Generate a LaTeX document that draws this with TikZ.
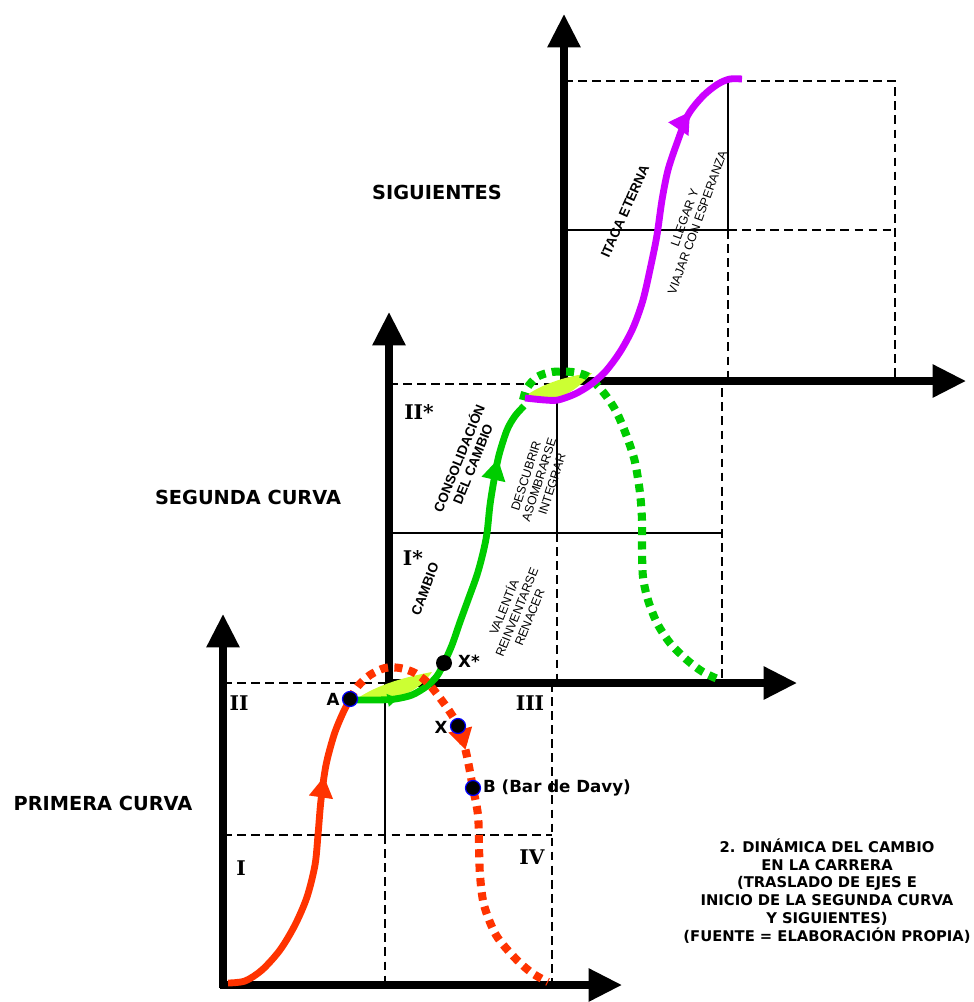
\documentclass[tikz,border=0pt]{standalone}
\usepackage{fontspec}
\usepackage{tikz}
\usetikzlibrary{arrows.meta,decorations.markings}
\newfontfamily\headfont{DejaVu Sans}
\newfontfamily\romfont{DejaVu Serif}
\newfontfamily\labfont{Liberation Sans}
\definecolor{curvered}{RGB}{255,51,0}
\definecolor{curvegreen}{RGB}{0,204,0}
\definecolor{curvemag}{RGB}{204,0,255}
\definecolor{lensfill}{RGB}{204,255,51}

\begin{document}
\begin{tikzpicture}[x=0.02cm,y=-0.02cm,
    axis/.style={line width=4pt,-{Triangle[length=19pt,width=18pt]}},
    gridline/.style={line width=1.3pt},
    griddash/.style={line width=1.3pt,dash pattern=on 5pt off 3pt},
    solidcurve/.style={line width=3.9pt},
    dotcurve/.style={line width=4.6pt,dash pattern=on 4.6pt off 3.6pt},
    tipat/.style={postaction={decorate,decoration={markings,
        mark=at position #1 with {\arrow{Triangle[length=12pt,width=13pt]}}}}},
    smalltipat/.style={postaction={decorate,decoration={markings,
        mark=at position #1 with {\arrow{Triangle[length=6pt,width=7pt]}}}}},
    ptdot/.style={fill=black,draw=blue,line width=0.7pt},
    title/.style={font=\headfont\bfseries\fontsize{11}{13}\selectfont},
    roman/.style={font=\romfont\bfseries\fontsize{11.5}{13}\selectfont},
    ptlabel/.style={font=\headfont\bfseries\fontsize{9.5}{11}\selectfont,inner sep=1pt},
    boldrot/.style={font=\labfont\bfseries\fontsize{7.7}{8.4}\selectfont,align=center,inner sep=0pt},
    thinrot/.style={font=\labfont\fontsize{7}{7.8}\selectfont,align=center,inner sep=0pt}]
  \useasboundingbox (0,0) rectangle (974,1002);
  % grids
  \draw[griddash] (223,683) -- (389,683);
  \draw[griddash] (552,683) -- (552,985);
  \draw[griddash] (223,835) -- (552,835);
  \draw[gridline] (385,683) -- (385,835);
  \draw[griddash] (385,835) -- (385,985);
  \draw[griddash] (389,384) -- (722,384) -- (722,683);
  \draw[gridline] (389,533) -- (722,533);
  \draw[gridline] (557,384) -- (557,533);
  \draw[griddash] (557,533) -- (557,683);
  \draw[griddash] (564,81) -- (895,81) -- (895,381);
  \draw[gridline] (564,230) -- (728,230);
  \draw[griddash] (728,230) -- (895,230);
  \draw[gridline] (728,81) -- (728,230);
  \draw[griddash] (728,230) -- (728,381);
  % axes
  \draw[axis] (223,988) -- (223,614);
  \draw[axis] (220,985) -- (622,985);
  \draw[axis] (389,686) -- (389,312);
  \draw[axis] (386,683) -- (797,683);
  \draw[axis] (564,384) -- (564,14);
  \draw[axis] (561,381) -- (966,381);
  % points
  \coordinate (O1) at (228,983);
  \coordinate (A) at (350,699);
  \coordinate (X) at (458,726);
  \coordinate (B) at (473,788);
  \coordinate (Xs) at (444,663);
  \coordinate (G1) at (524,406);
  \coordinate (M1) at (525,398);
  \coordinate (M2) at (742,79);
  % lenses
  \fill[lensfill] (355,700) .. controls (375,686) and (400,678) .. (432,672)
    .. controls (420,690) and (400,699) .. (378,701) -- cycle;
  \fill[lensfill] (524,397) .. controls (540,385) and (565,376) .. (592,373)
    .. controls (575,392) and (560,400) .. (540,400) -- cycle;
  % curves
  \draw[solidcurve,curvegreen,smalltipat=0.11,tipat=0.84] plot[smooth] coordinates {(357,700) (378,700) (395,699)
    (412,695) (427,686) (437,676) (Xs) (452,645) (460,622) (468,600) (477,575) (483,553) (487,533)
    (490,505) (494,480) (499,455) (507,430) (515,416) (G1)};
  \draw[dotcurve,curvegreen] plot[smooth] coordinates {(523,400) (527,388) (537,377) (552,372) (572,372)
    (587,376) (597,385) (607,397) (617,413) (627,437) (635,462) (640,493) (642,520) (642,547)
    (643,577) (648,600) (657,623) (670,643) (687,660) (703,672) (720,680)};
  \draw[solidcurve,curvemag,tipat=0.85] plot[smooth] coordinates {(M1) (545,400) (558,400) (575,394)
    (590,385) (605,372) (620,352) (633,328) (643,300) (651,265) (657,235) (662,200) (668,170)
    (677,143) (688,115) (703,96) (718,84) (730,79) (M2)};
  \draw[solidcurve,curvered,tipat=0.75] plot[smooth] coordinates {(O1) (245,981) (262,970) (280,950)
    (295,925) (307,897) (315,865) (318,835) (321,800) (326,765) (334,735) (342,715) (A)};
  \draw[dotcurve,curvered,tipat=0.4] plot[smooth] coordinates {(A) (358,686) (370,675) (385,668)
    (400,668) (415,673) (428,683) (440,698) (450,712) (X) (466,752) (B) (478,815) (479,845)
    (480,875) (484,905) (496,935) (515,958) (532,973) (548,982)};
  \filldraw[ptdot] (A) circle[radius=7.5];
  \filldraw[ptdot] (X) circle[radius=7.5];
  \filldraw[ptdot] (B) circle[radius=7.5];
  \fill (Xs) circle[radius=8];
  % labels
  \node[title] (siguientes) at (437,192) {SIGUIENTES};
  \node[title] (segunda) at (248,497) {SEGUNDA CURVA};
  \node[title] (primera) at (103,803) {PRIMERA CURVA};
  \node[roman] (quadI) at (241,868) {I};
  \node[roman] (quadII) at (239,703) {II};
  \node[roman] (quadIII) at (530,703) {III};
  \node[roman] (quadIV) at (532,857) {IV};
  \node[roman] (quadIs) at (413,558) {I*};
  \node[roman] (quadIIs) at (419,412) {II*};
  \node[ptlabel] (labA) at (333,699) {A};
  \node[ptlabel] (labX) at (441,727) {X};
  \node[ptlabel] (labXs) at (469,661) {X*};
  \node[ptlabel,anchor=west] (labB) at (481,788) {B (Bar de Davy)};
  \node[boldrot,rotate=68] (consol) at (465,461) {CONSOLIDACIÓN\\DEL CAMBIO};
  \node[boldrot,rotate=69] (cambio) at (425,589) {CAMBIO};
  \node[thinrot,rotate=72] (descubrir) at (539,480) {DESCUBRIR\\ASOMBRARSE\\INTEGRAR};
  \node[thinrot,rotate=68] (valentia) at (516,612) {VALENTÍA\\REINVENTARSE\\RENACER};
  \node[boldrot,rotate=66] (itaca) at (625,211) {ITACA ETERNA};
  \node[thinrot,rotate=70] (llegar) at (691,220) {LLEGAR Y\\VIAJAR CON ESPERANZA};
  \node[font=\headfont\bfseries\fontsize{8.4}{10.2}\selectfont,align=center] (caption) at (827,891)
    {2. DINÁMICA DEL CAMBIO\\EN LA CARRERA\\(TRASLADO DE EJES E\\INICIO DE LA SEGUNDA CURVA\\Y SIGUIENTES)\\(FUENTE = ELABORACIÓN PROPIA)};
\end{tikzpicture}
\end{document}
